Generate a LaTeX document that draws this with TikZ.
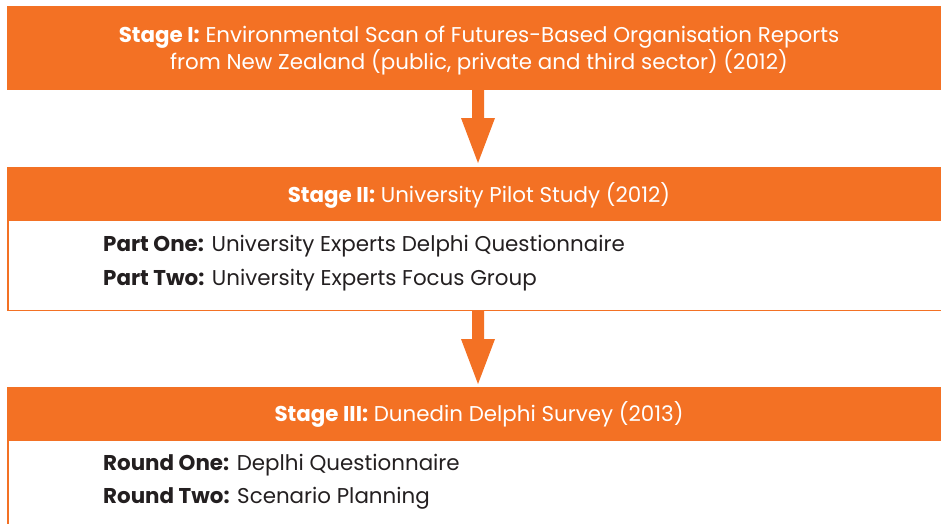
\documentclass[tikz,border=0pt]{standalone}
\usepackage{fontspec}
\setmainfont{Poppins}
\definecolor{orng}{HTML}{F37124}
\definecolor{txt}{HTML}{231F20}
\begin{document}
\begin{tikzpicture}[x=1pt,y=-1pt,
  bar/.style={fill=orng,draw=none},
  bartext/.style={text=white,font=\fontsize{21.4}{27}\selectfont,align=center,inner sep=0},
  itemtext/.style={text=txt,font=\fontsize{21.4}{27}\selectfont,anchor=west,inner sep=0},
  flow/.style={fill=orng,draw=none},
  frame/.style={draw=orng,line width=1.5pt}]
\useasboundingbox (0,0) rectangle (941,524);
% bars
\path[bar] (7,6) rectangle (941,90);
\path[bar] (7,167) rectangle (941,221);
\path[bar] (7,387) rectangle (941,441);
% frames
\draw[frame] (8,221) -- (8,310.5) -- (941,310.5);
\draw[frame] (8,441) -- (8,524);
% arrows
\path[flow] (472,90) -- (484,90) -- (484,118) -- (495,118) -- (478,163) -- (461,118) -- (472,118) -- cycle;
\path[flow] (472,311) -- (484,311) -- (484,339) -- (495,339) -- (478,384) -- (461,339) -- (472,339) -- cycle;
% texts
\node[bartext] (s1) at (479,51) {\textbf{Stage I:} Environmental Scan of Futures-Based Organisation Reports\\from New Zealand (public, private and third sector) (2012)};
\node[bartext] (s2) at (479,195) {\textbf{Stage II:} University Pilot Study (2012)};
\node[bartext] (s3) at (479,414) {\textbf{Stage III:} Dunedin Delphi Survey (2013)};
\node[itemtext] (p1) at (103,246) {\textbf{Part One:} University Experts Delphi Questionnaire};
\node[itemtext] (p2) at (103,280) {\textbf{Part Two:} University Experts Focus Group};
\node[itemtext] (r1) at (103,465) {\textbf{Round One:} Deplhi Questionnaire};
\node[itemtext] (r2) at (103,498) {\textbf{Round Two:} Scenario Planning};
\end{tikzpicture}
\end{document}
